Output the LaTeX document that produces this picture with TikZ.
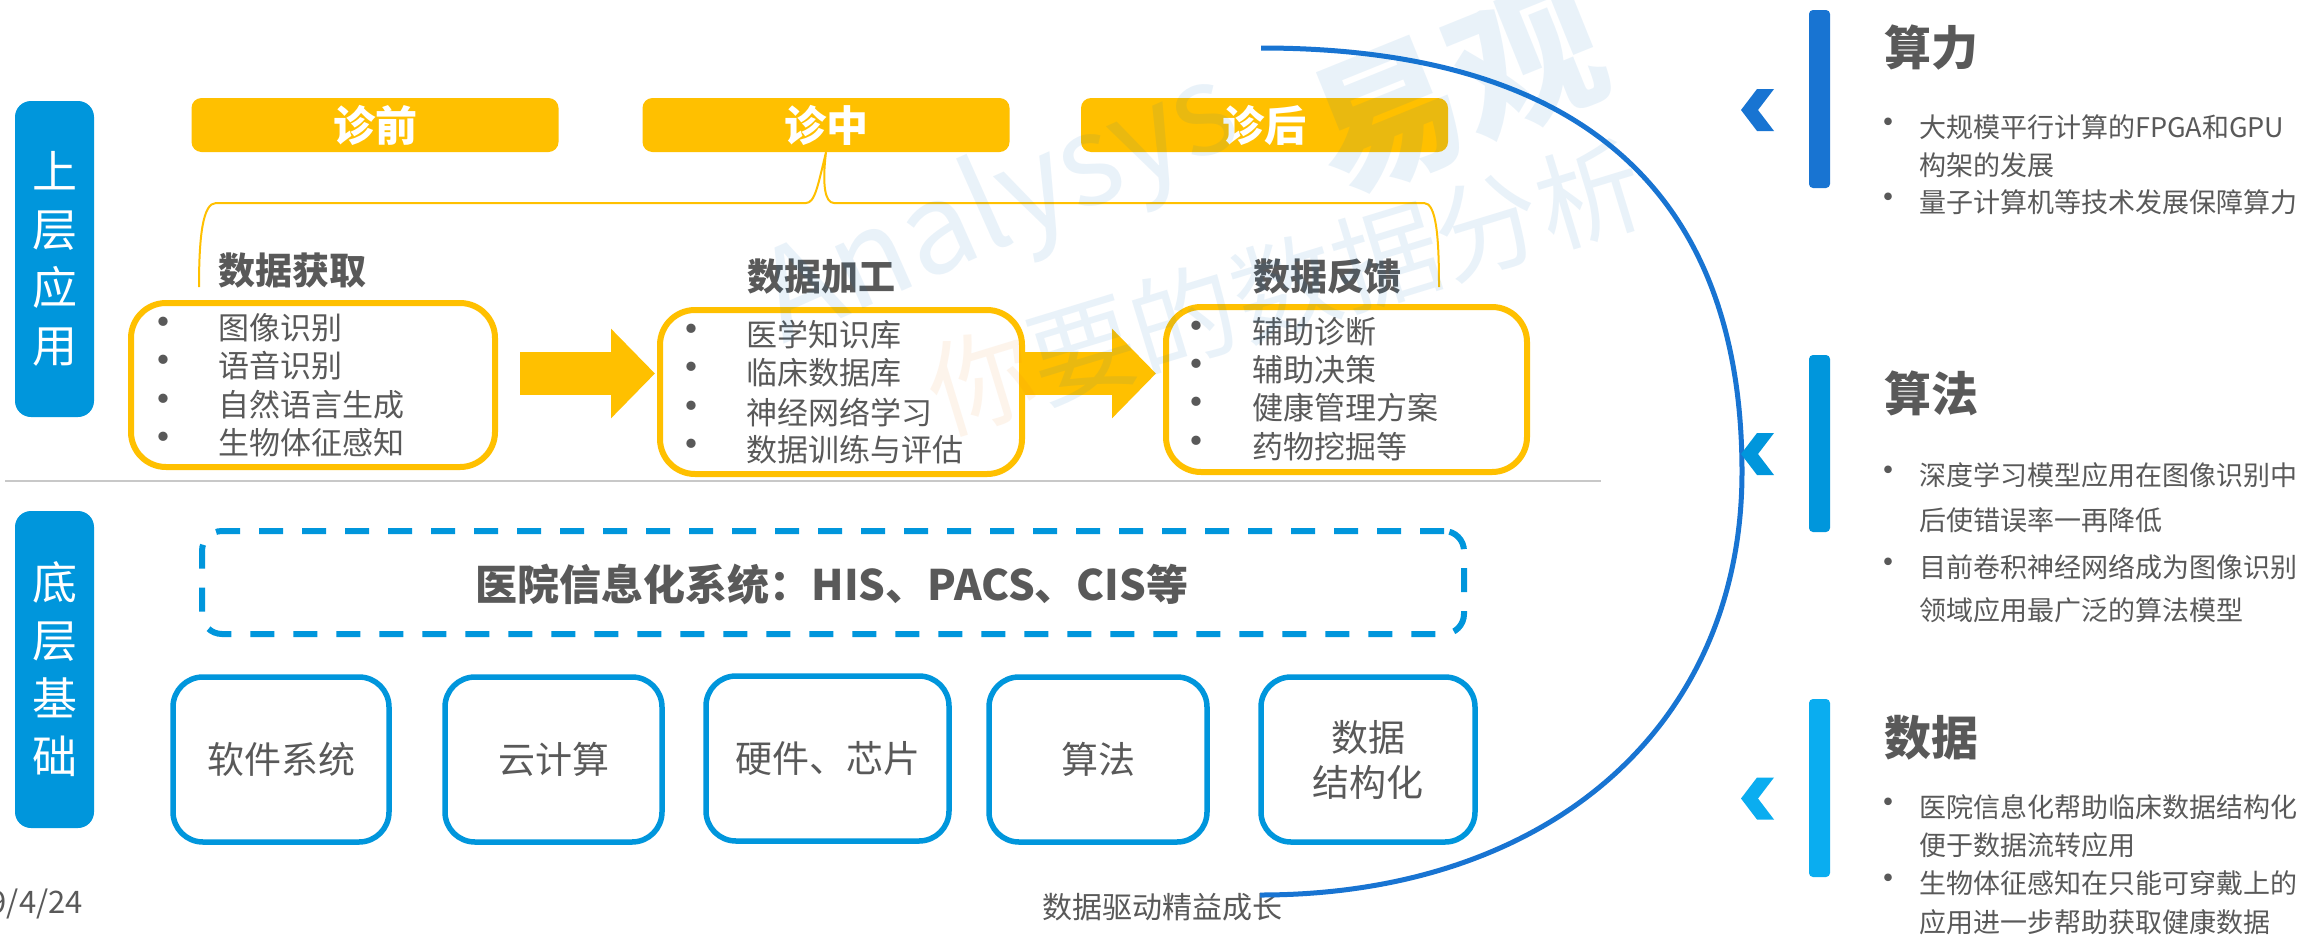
\documentclass[tikz,border=0pt]{standalone}
\usepackage{fontspec}
\setmainfont{Noto Sans CJK SC}
\usetikzlibrary{arrows.meta}
\definecolor{ylw}{HTML}{FFC000}
\definecolor{txt}{HTML}{595959}
\definecolor{bl}{HTML}{0096DC}
\definecolor{dbl}{HTML}{1874D2}
\definecolor{lbl}{HTML}{0AADF0}
\definecolor{sepc}{HTML}{C8C8C8}
\definecolor{wmb}{HTML}{0070C0}
\definecolor{wmo}{HTML}{F08020}
\newcommand\fsz[2]{\fontsize{#1}{#2}\selectfont}
\begin{document}
\begin{tikzpicture}[x=1pt,y=-1pt,
  pill/.style={fill=ylw, rounded corners=10pt, minimum width=367pt, minimum height=54pt, inner sep=0pt, text=white, font=\bfseries\fsz{42}{42}},
  ybox/.style={draw=ylw, line width=6pt, rounded corners=35pt, inner sep=0pt},
  bbox/.style={draw=bl, line width=5.5pt, rounded corners=30pt, inner sep=0pt, minimum height=165pt, text=txt, font=\fsz{37}{45}, align=center},
  sidebar/.style={fill=bl, rounded corners=16pt, minimum width=79pt, minimum height=316pt, inner sep=0pt, text=white, font=\fsz{45}{58}, align=center},
  ttl/.style={text=txt, font=\bfseries\fsz{37}{37}, inner sep=0pt},
  itm/.style={text=txt, font=\fsz{31}{31}, anchor=west, inner sep=0pt},
  bul/.style={text=txt, font=\fsz{44}{44}, inner sep=0pt},
  rttl/.style={text=txt, font=\bfseries\fsz{47}{47}, anchor=west, inner sep=0pt},
  ritm/.style={text=txt, font=\fsz{27}{27}, anchor=west, inner sep=0pt},
  rbul/.style={text=txt, font=\fsz{36}{36}, inner sep=0pt},
  vbar/.style={rounded corners=4pt, minimum width=21pt, minimum height=178pt, inner sep=0pt},
  bigarrow/.style={ylw, line width=43pt, -{Triangle[length=44pt, width=87pt]}},
  wm/.style={inner sep=0pt, opacity=0.085}
]
\useasboundingbox (0,0) rectangle (2305,935);
\fill[white] (0,0) rectangle (2305,935);

% side bars
\node[sidebar] (up) at (54.5,259) {上\\层\\应\\用};
\node[sidebar, minimum height=317pt] (down) at (54.5,669.5) {底\\层\\基\\础};

% pills
\node[pill] (pre) at (375,125) {诊前};
\node[pill] (mid) at (826,125) {诊中};
\node[pill] (post) at (1264.5,125) {诊后};

% brace
\draw[ylw, line width=2pt] (199,287) .. controls (199,235) and (203,203) .. (216,203) -- (806,203)
  .. controls (815,203) and (818,185) .. (mid.south) .. controls (822,185) and (825,203) .. (834,203)
  -- (1424,203) .. controls (1436,203) and (1439,235) .. (1439,287);

% section titles
\node[ttl] (t1) at (292,271) {数据获取};
\node[ttl] (t2) at (821,277) {数据加工};
\node[ttl] (t3) at (1327,277) {数据反馈};

% yellow boxes
\node[ybox, minimum width=364pt, minimum height=164pt] (box1) at (313,385) {};
\node[ybox, minimum width=362pt, minimum height=164pt] (box2) at (841,392) {};
\node[ybox, minimum width=361pt, minimum height=165pt] (box3) at (1346.5,389.5) {};

% items
\foreach \y/\t [count=\i] in {328/图像识别, 366/语音识别, 405/自然语言生成, 443/生物体征感知}{
  \node[bul] (a\i b) at (163,\y) {•};
  \node[itm] (a\i) at (218,\y) {\t};
}
\foreach \y/\t [count=\i] in {335/医学知识库, 373/临床数据库, 412/神经网络学习, 450/数据训练与评估}{
  \node[bul] (m\i b) at (691,\y) {•};
  \node[itm] (m\i) at (746,\y) {\t};
}
\foreach \y/\t [count=\i] in {332/辅助诊断, 370/辅助决策, 408/健康管理方案, 447/药物挖掘等}{
  \node[bul] (p\i b) at (1196,\y) {•};
  \node[itm] (p\i) at (1252,\y) {\t};
}

% block arrows
\coordinate (a1s) at (520,373.5);
\coordinate (a1e) at (655,373.5);
\coordinate (a2s) at (1025,373.5);
\coordinate (a2e) at (1156,373.5);
\draw[bigarrow] (a1s) -- (a1e);
\draw[bigarrow] (a2s) -- (a2e);

% separator
\draw[sepc, line width=2pt] (5,481) -- (1601,481);

% dashed box
\node[draw=bl, line width=6pt, dash pattern=on 24pt off 19pt, rounded corners=20pt, minimum width=1262pt, minimum height=103pt, inner sep=0pt] (his) at (833,582.5) {};
\node[text=txt, font=\bfseries\fsz{42}{42}, inner sep=0pt] (histxt) at (832,584) {医院信息化系统：HIS、PACS、CIS等};

% bottom boxes
\node[bbox, minimum width=216pt] (s1) at (281,759.5) {软件系统};
\node[bbox, minimum width=217pt] (s2) at (553.5,759.5) {云计算};
\node[bbox, minimum width=243pt] (s3) at (827.5,758.5) {硬件、芯片};
\node[bbox, minimum width=218pt] (s4) at (1098,759.5) {算法};
\node[bbox, minimum width=214pt] (s5) at (1368,759.5) {数据\\结构化};

% footer
\node[text=txt, font=\fsz{31}{31}, anchor=east, inner sep=0pt] (date) at (83,904) {9/4/24};
\node[text=txt, font=\fsz{30}{30}, inner sep=0pt] (slogan) at (1162,907) {数据驱动精益成长};

% big arc
\coordinate (arcA) at (1261,48);
\coordinate (arcB) at (1260,895);
\draw[dbl, line width=5pt] (arcA) .. controls (1600,48) and (1742,210) .. (1742,472)
  .. controls (1742,726) and (1549,895) .. (arcB);

% right side bars
\node[vbar, fill=dbl] (r1) at (1819.5,99) {};
\node[vbar, fill=bl, minimum height=177pt] (r2) at (1819.5,443.5) {};
\node[vbar, fill=lbl] (r3) at (1819.5,788) {};

% chevrons
\foreach \c/\col in {110/dbl, 454/bl, 798.5/lbl}{
  \fill[\col] (1757,\c-21) -- (1774,\c-21) -- (1758,\c) -- (1774,\c+21) -- (1757,\c+21) -- (1741,\c) -- cycle;
}

% right titles
\node[rttl] (rt1) at (1884,48) {算力};
\node[rttl] (rt2) at (1884,393) {算法};
\node[rttl] (rt3) at (1884,738) {数据};

% right items
\node[rbul] (r1b1) at (1888,127) {•};
\node[ritm] (r1l1) at (1919,127) {大规模平行计算的FPGA和GPU};
\node[ritm] (r1l2) at (1919,165) {构架的发展};
\node[rbul] (r1b2) at (1888,202) {•};
\node[ritm] (r1l3) at (1919,202) {量子计算机等技术发展保障算力};

\node[rbul] (r2b1) at (1888,475) {•};
\node[ritm] (r2l1) at (1919,475) {深度学习模型应用在图像识别中};
\node[ritm] (r2l2) at (1919,520) {后使错误率一再降低};
\node[rbul] (r2b2) at (1888,567) {•};
\node[ritm] (r2l3) at (1919,567) {目前卷积神经网络成为图像识别};
\node[ritm] (r2l4) at (1919,610) {领域应用最广泛的算法模型};

\node[rbul] (r3b1) at (1888,807) {•};
\node[ritm] (r3l1) at (1919,807) {医院信息化帮助临床数据结构化};
\node[ritm] (r3l2) at (1919,845) {便于数据流转应用};
\node[rbul] (r3b2) at (1888,883) {•};
\node[ritm] (r3l3) at (1919,883) {生物体征感知在只能可穿戴上的};
\node[ritm] (r3l4) at (1919,922) {应用进一步帮助获取健康数据};

% watermark
\node[wm, text=wmb, rotate=24, font=\fsz{125}{125}] (wm1) at (1000,210) {Analysys};
\node[wm, text=wmb, rotate=22, font=\bfseries\fsz{150}{150}] (wm2) at (1458,90) {易观};
\node[wm, rotate=17, font=\fsz{106}{106}] (wm3) at (1285,287) {\textcolor{wmo}{你}\textcolor{wmb}{要的数据分析}};
\end{tikzpicture}
\end{document}
